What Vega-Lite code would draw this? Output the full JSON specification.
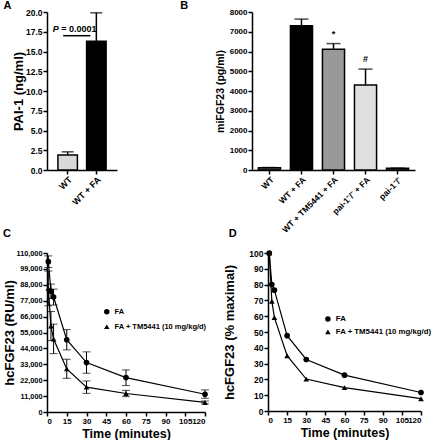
{
  "$schema": "https://vega.github.io/schema/vega-lite/v6.json",
  "padding": {"left": 3, "top": 0, "right": 0, "bottom": 0},
  "background": "white",
  "config": {
    "font": "Liberation Sans",
    "view": {"stroke": null},
    "axis": {"labelFont": "Liberation Sans", "titleFont": "Liberation Sans", "labelFontWeight": "bold", "titleFontWeight": "bold", "labelColor": "black", "titleColor": "black", "domainColor": "black", "tickColor": "black", "domainWidth": 1.5, "tickWidth": 1.5, "tickSize": 4, "grid": false, "labelFontSize": 8, "labelPadding": 1, "titlePadding": 4, "labelOverlap": false},
    "title": {"font": "Liberation Sans", "fontSize": 11, "fontWeight": "bold", "anchor": "start", "frame": "bounds", "color": "black"},
    "text": {"font": "Liberation Sans"}
  },
  "datasets": {
    "pai": [
      {"group": "WT", "mean": 1.9, "upper": 2.3},
      {"group": "WT + FA", "mean": 16.3, "upper": 19.9}
    ],
    "pval": [
      {"group": "WT", "group2": "WT + FA", "y": 17.0, "ty": 17.8, "p": "P", "rest": "= 0.0001"}
    ],
    "mifgf": [
      {"group": "WT", "mean": 110, "upper": 125},
      {"group": "WT + FA", "mean": 7300, "upper": 7640},
      {"group": "WT + TM5441 + FA", "mean": 6110, "upper": 6400},
      {"group": "pai-1⁻/⁻ + FA", "mean": 4300, "upper": 5110},
      {"group": "pai-1⁻/⁻", "mean": 85, "upper": 95}
    ],
    "sig": [
      {"group": "WT + TM5441 + FA", "y": 6900, "label": "*"},
      {"group": "pai-1⁻/⁻ + FA", "y": 5600, "label": "#"}
    ],
    "hc": [
      {"series": "FA", "t": 1, "value": 104000, "lo": 100000, "hi": 108000},
      {"series": "FA", "t": 3, "value": 83500, "lo": 78500, "hi": 88500},
      {"series": "FA", "t": 5, "value": 79500, "lo": 74000, "hi": 85000},
      {"series": "FA", "t": 15, "value": 50000, "lo": 43000, "hi": 57000},
      {"series": "FA", "t": 30, "value": 34200, "lo": 26800, "hi": 41600},
      {"series": "FA", "t": 60, "value": 23800, "lo": 18300, "hi": 29100},
      {"series": "FA", "t": 120, "value": 12300, "lo": 9500, "hi": 15300},
      {"series": "FA + TM5441 (10 mg/kg/d)", "t": 1, "value": 85500, "lo": 73500, "hi": 97500},
      {"series": "FA + TM5441 (10 mg/kg/d)", "t": 3, "value": 59500, "lo": 49500, "hi": 69500},
      {"series": "FA + TM5441 (10 mg/kg/d)", "t": 5, "value": 50500, "lo": 40400, "hi": 60800},
      {"series": "FA + TM5441 (10 mg/kg/d)", "t": 15, "value": 29800, "lo": 23300, "hi": 36500},
      {"series": "FA + TM5441 (10 mg/kg/d)", "t": 30, "value": 17200, "lo": 12900, "hi": 21500},
      {"series": "FA + TM5441 (10 mg/kg/d)", "t": 60, "value": 12800, "lo": 10600, "hi": 15000},
      {"series": "FA + TM5441 (10 mg/kg/d)", "t": 120, "value": 6600, "lo": 5600, "hi": 7600}
    ],
    "pct": [
      {"series": "FA", "t": 1, "value": 100},
      {"series": "FA", "t": 3, "value": 80},
      {"series": "FA", "t": 5, "value": 76.5},
      {"series": "FA", "t": 15, "value": 47.7},
      {"series": "FA", "t": 30, "value": 32.6},
      {"series": "FA", "t": 60, "value": 22.7},
      {"series": "FA", "t": 120, "value": 11.7},
      {"series": "FA + TM5441 (10 mg/kg/d)", "t": 1, "value": 100},
      {"series": "FA + TM5441 (10 mg/kg/d)", "t": 3, "value": 69.5},
      {"series": "FA + TM5441 (10 mg/kg/d)", "t": 5, "value": 59.2},
      {"series": "FA + TM5441 (10 mg/kg/d)", "t": 15, "value": 35},
      {"series": "FA + TM5441 (10 mg/kg/d)", "t": 30, "value": 20.2},
      {"series": "FA + TM5441 (10 mg/kg/d)", "t": 60, "value": 14.8},
      {"series": "FA + TM5441 (10 mg/kg/d)", "t": 120, "value": 7.8}
    ]
  },
  "spacing": -6,
  "align": "none",
  "resolve": {"scale": {"fill": "independent", "shape": "independent", "x": "independent", "y": "independent"}, "legend": {"fill": "independent", "shape": "independent"}},
  "vconcat": [
    {
      "spacing": 63,
      "resolve": {"scale": {"fill": "independent", "shape": "independent", "x": "independent", "y": "independent"}, "legend": {"fill": "independent", "shape": "independent"}},
      "hconcat": [
        {
          "width": 70,
          "height": 158,
          "title": {"text": "A", "offset": -3},
          "encoding": {
            "x": {"field": "group", "type": "nominal", "sort": null, "scale": {"domain": ["WT", "WT + FA"], "paddingInner": 0.32, "paddingOuter": 0.38}, "axis": {"title": null, "labelAngle": -45, "labelFontSize": 9}}
          },
          "layer": [
            {
              "data": {"name": "pai"},
              "mark": {"type": "rule", "color": "black", "strokeWidth": 1.5},
              "encoding": {
                "y": {"field": "mean", "type": "quantitative", "scale": {"domain": [0, 20], "nice": false}, "axis": {"title": ["", "PAI-1 (ng/ml)"], "titleFontSize": 13, "titleLineHeight": 9, "titlePadding": 0, "labelFontSize": 8.5, "values": [0, 2.5, 5, 7.5, 10, 12.5, 15, 17.5, 20], "tickCount": 40, "format": ".1f"}},
                "y2": {"field": "upper"}
              }
            },
            {
              "data": {"name": "pai"},
              "mark": {"type": "tick", "orient": "horizontal", "color": "black", "size": 12, "thickness": 1.5},
              "encoding": {
                "y": {"field": "upper", "type": "quantitative"}
              }
            },
            {
              "data": {"name": "pai"},
              "mark": {"type": "bar", "stroke": "black", "strokeWidth": 1.5},
              "encoding": {
                "y": {"field": "mean", "type": "quantitative"},
                "fill": {"field": "group", "type": "nominal", "scale": {"domain": ["WT", "WT + FA"], "range": ["#d9d9d9", "#000000"]}, "legend": null}
              }
            },
            {
              "data": {"name": "pval"},
              "mark": {"type": "rule", "color": "black", "strokeWidth": 1.5, "xOffset": -4.5, "x2Offset": -6},
              "encoding": {
                "x": {"field": "group", "type": "nominal"},
                "x2": {"field": "group2"},
                "y": {"field": "y", "type": "quantitative"}
              }
            },
            {
              "data": {"name": "pval"},
              "mark": {"type": "text", "fontSize": 9, "fontWeight": "bold", "fontStyle": "italic", "align": "right", "baseline": "middle", "dx": -9},
              "encoding": {
                "x": {"field": "group", "type": "nominal"},
                "y": {"field": "ty", "type": "quantitative"},
                "text": {"field": "p"}
              }
            },
            {
              "data": {"name": "pval"},
              "mark": {"type": "text", "fontSize": 9, "fontWeight": "bold", "align": "left", "baseline": "middle", "dx": -6.5},
              "encoding": {
                "x": {"field": "group", "type": "nominal"},
                "y": {"field": "ty", "type": "quantitative"},
                "text": {"field": "rest"}
              }
            }
          ]
        },
        {
          "width": 163,
          "height": 158,
          "title": {"text": "B", "dx": -35, "offset": -3},
          "encoding": {
            "x": {"field": "group", "type": "nominal", "sort": null, "scale": {"domain": ["WT", "WT + FA", "WT + TM5441 + FA", "pai-1⁻/⁻ + FA", "pai-1⁻/⁻"], "paddingInner": 0.31, "paddingOuter": 0.2}, "axis": {"title": null, "labelAngle": -45, "labelFontSize": 8.5}}
          },
          "layer": [
            {
              "data": {"name": "mifgf"},
              "mark": {"type": "rule", "color": "black", "strokeWidth": 1.5},
              "encoding": {
                "y": {"field": "mean", "type": "quantitative", "scale": {"domain": [0, 8000], "nice": false}, "axis": {"title": "miFGF23 (pg/ml)", "titleFontSize": 10.5, "values": [0, 1000, 2000, 3000, 4000, 5000, 6000, 7000, 8000], "tickCount": 40, "format": "d"}},
                "y2": {"field": "upper"}
              }
            },
            {
              "data": {"name": "mifgf"},
              "mark": {"type": "tick", "orient": "horizontal", "color": "black", "size": 14, "thickness": 1.5},
              "encoding": {
                "y": {"field": "upper", "type": "quantitative"}
              }
            },
            {
              "data": {"name": "mifgf"},
              "mark": {"type": "bar", "stroke": "black", "strokeWidth": 1.5},
              "encoding": {
                "y": {"field": "mean", "type": "quantitative"},
                "fill": {"field": "group", "type": "nominal", "scale": {"domain": ["WT", "WT + FA", "WT + TM5441 + FA", "pai-1⁻/⁻ + FA", "pai-1⁻/⁻"], "range": ["#555555", "#000000", "#999999", "#e0e0e0", "#555555"]}, "legend": null}
              }
            },
            {
              "data": {"name": "sig"},
              "mark": {"type": "text", "fontSize": 9, "fontWeight": "bold", "baseline": "middle"},
              "encoding": {
                "x": {"field": "group", "type": "nominal"},
                "y": {"field": "y", "type": "quantitative"},
                "text": {"field": "label"}
              }
            }
          ]
        }
      ]
    },
    {
      "spacing": 14,
      "resolve": {"scale": {"fill": "independent", "shape": "independent", "x": "independent", "y": "independent"}, "legend": {"fill": "independent", "shape": "independent"}},
      "hconcat": [
        {
          "width": 158,
          "height": 159,
          "title": {"text": "C", "offset": 10},
          "data": {"name": "hc"},
          "encoding": {
            "x": {"field": "t", "type": "quantitative", "scale": {"domain": [0, 120], "nice": false}, "axis": {"title": "Time (minutes)", "titleFontSize": 12.5, "values": [0, 15, 30, 45, 60, 75, 90, 105, 120], "tickCount": 40, "titlePadding": 2}}
          },
          "layer": [
            {
              "mark": {"type": "rule", "color": "black", "strokeWidth": 1},
              "encoding": {
                "y": {"field": "lo", "type": "quantitative", "scale": {"domain": [0, 110000], "nice": false}, "axis": {"title": "hcFGF23 (RU/ml)", "titleFontSize": 13, "titlePadding": 0, "labelFontSize": 7.3, "values": [0, 11000, 22000, 33000, 44000, 55000, 66000, 77000, 88000, 99000, 110000], "tickCount": 40, "format": ",", "labelExpr": "format(datum.value, ',')"}},
                "y2": {"field": "hi"}
              }
            },
            {
              "mark": {"type": "tick", "orient": "horizontal", "color": "black", "size": 8, "thickness": 1},
              "encoding": {
                "y": {"field": "lo", "type": "quantitative", "scale": {"domain": [0, 110000], "nice": false}, "axis": {"title": "hcFGF23 (RU/ml)", "titleFontSize": 13, "titlePadding": 0, "labelFontSize": 7.3, "values": [0, 11000, 22000, 33000, 44000, 55000, 66000, 77000, 88000, 99000, 110000], "tickCount": 40, "format": ",", "labelExpr": "format(datum.value, ',')"}}
              }
            },
            {
              "mark": {"type": "tick", "orient": "horizontal", "color": "black", "size": 8, "thickness": 1},
              "encoding": {
                "y": {"field": "hi", "type": "quantitative", "scale": {"domain": [0, 110000], "nice": false}, "axis": {"title": "hcFGF23 (RU/ml)", "titleFontSize": 13, "titlePadding": 0, "labelFontSize": 7.3, "values": [0, 11000, 22000, 33000, 44000, 55000, 66000, 77000, 88000, 99000, 110000], "tickCount": 40, "format": ",", "labelExpr": "format(datum.value, ',')"}}
              }
            },
            {
              "mark": {"type": "line", "color": "black", "strokeWidth": 1.2},
              "encoding": {
                "y": {"field": "value", "type": "quantitative", "scale": {"domain": [0, 110000], "nice": false}, "axis": {"title": "hcFGF23 (RU/ml)", "titleFontSize": 13, "titlePadding": 0, "labelFontSize": 7.3, "values": [0, 11000, 22000, 33000, 44000, 55000, 66000, 77000, 88000, 99000, 110000], "tickCount": 40, "format": ",", "labelExpr": "format(datum.value, ',')"}},
                "detail": {"field": "series", "type": "nominal"}
              }
            },
            {
              "mark": {"type": "point", "filled": true, "color": "black", "opacity": 1, "size": 32},
              "encoding": {
                "y": {"field": "value", "type": "quantitative", "scale": {"domain": [0, 110000], "nice": false}, "axis": {"title": "hcFGF23 (RU/ml)", "titleFontSize": 13, "titlePadding": 0, "labelFontSize": 7.3, "values": [0, 11000, 22000, 33000, 44000, 55000, 66000, 77000, 88000, 99000, 110000], "tickCount": 40, "format": ",", "labelExpr": "format(datum.value, ',')"}},
                "shape": {"field": "series", "type": "nominal", "scale": {"domain": ["FA", "FA + TM5441 (10 mg/kg/d)"], "range": ["circle", "triangle-up"]}, "legend": {"title": null, "orient": "none", "legendX": 56, "legendY": 55, "labelFontSize": 7.5, "labelFontWeight": "bold", "labelColor": "black", "symbolFillColor": "black", "symbolStrokeColor": "black", "symbolSize": 30, "rowPadding": 3, "padding": 0, "labelOffset": 4}}
              }
            }
          ]
        },
        {
          "width": 153,
          "height": 158,
          "title": {"text": "D", "dx": 5, "offset": 10},
          "data": {"name": "pct"},
          "encoding": {
            "x": {"field": "t", "type": "quantitative", "scale": {"domain": [0, 120], "nice": false}, "axis": {"title": "Time (minutes)", "titleFontSize": 12.5, "values": [0, 15, 30, 45, 60, 75, 90, 105, 120], "tickCount": 40, "titlePadding": 2}}
          },
          "layer": [
            {
              "mark": {"type": "line", "color": "black", "strokeWidth": 1.2},
              "encoding": {
                "y": {"field": "value", "type": "quantitative", "scale": {"domain": [0, 100], "nice": false}, "axis": {"title": "hcFGF23 (% maximal)", "titleFontSize": 13, "titlePadding": 12, "labelFontSize": 8.5, "values": [0, 10, 20, 30, 40, 50, 60, 70, 80, 90, 100], "tickCount": 40}},
                "detail": {"field": "series", "type": "nominal"}
              }
            },
            {
              "mark": {"type": "point", "filled": true, "color": "black", "opacity": 1, "size": 32},
              "encoding": {
                "y": {"field": "value", "type": "quantitative"},
                "shape": {"field": "series", "type": "nominal", "scale": {"domain": ["FA", "FA + TM5441 (10 mg/kg/d)"], "range": ["circle", "triangle-up"]}, "legend": {"title": null, "orient": "none", "legendX": 56, "legendY": 62, "labelFontSize": 7.8, "labelFontWeight": "bold", "labelColor": "black", "symbolFillColor": "black", "symbolStrokeColor": "black", "symbolSize": 30, "rowPadding": 1, "padding": 0, "labelOffset": 4}}
              }
            }
          ]
        }
      ]
    }
  ]
}
